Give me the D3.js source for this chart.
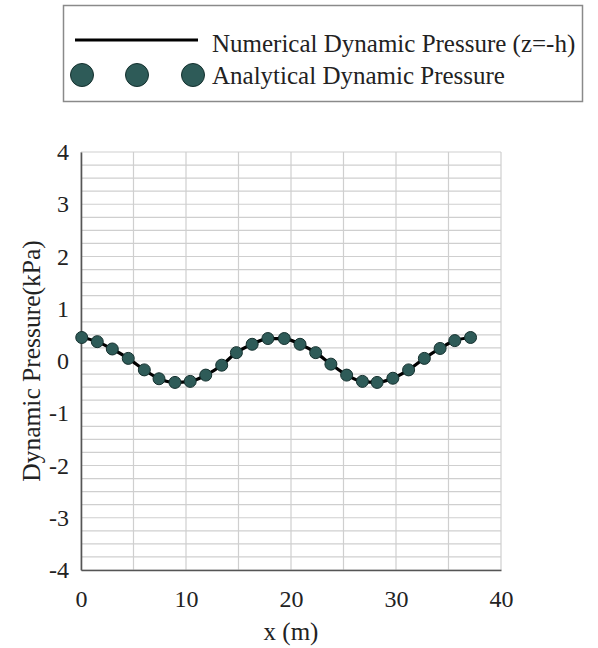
<!DOCTYPE html>
<html>
<head>
<meta charset="utf-8">
<script src="https://cdn.jsdelivr.net/npm/d3@7"></script>
<style>
  html, body { margin: 0; padding: 0; background: #fff; }
  svg { display: block; }
  text { font-family: "Liberation Serif", "Times New Roman", serif; fill: #222; }
</style>
</head>
<body>
<svg id="chart" width="598" height="648"></svg>
<script>
// Station positions along the channel (m)
const stations = [0.07, 1.55, 2.98, 4.5, 6.03, 7.43, 8.95, 10.4, 11.88, 13.4, 14.8, 16.3, 17.8,
                  19.36, 20.86, 22.35, 23.8, 25.3, 26.8, 28.2, 29.7, 31.2, 32.7, 34.2, 35.6, 37.1];
// Numerical dynamic pressure at the bed, z = -h (kPa)
const numericalPressure = [0.45, 0.37, 0.23, 0.05, -0.17, -0.34, -0.41, -0.39, -0.27, -0.08, 0.16, 0.32, 0.43,
                           0.43, 0.32, 0.16, -0.06, -0.27, -0.39, -0.41, -0.33, -0.17, 0.05, 0.24, 0.39, 0.45];
// Analytical dynamic pressure (kPa)
const analyticalPressure = [0.45, 0.37, 0.23, 0.05, -0.17, -0.34, -0.41, -0.39, -0.27, -0.08, 0.16, 0.32, 0.43,
                            0.43, 0.32, 0.16, -0.06, -0.27, -0.39, -0.41, -0.33, -0.17, 0.05, 0.24, 0.39, 0.45];
const xTicks = [0, 10, 20, 30, 40];
const yTicks = [4, 3, 2, 1, 0, -1, -2, -3, -4];
const xGrid = [0, 5, 10, 15, 20, 25, 30, 35, 40];
const yGrid = d3.range(-16, 17).map(k => k / 4);

const seriesNames = ["Numerical Dynamic Pressure (z=-h)", "Analytical Dynamic Pressure"];

const svg = d3.select("#chart");
const plot = { left: 81, right: 501, top: 152, bottom: 570 };

const x = d3.scaleLinear().domain([0, 40]).range([plot.left, plot.right]);
const y = d3.scaleLinear().domain([-4, 4]).range([plot.bottom, plot.top]);

const markerFill = "#2e5b58";
const markerStroke = "#14302e";

// Grid
const grid = svg.append("g");
grid.selectAll("line.h").data(yGrid).join("line")
  .attr("x1", plot.left).attr("x2", plot.right)
  .attr("y1", d => y(d)).attr("y2", d => y(d))
  .attr("stroke", "#cfcfcf").attr("stroke-width", 1.2);
grid.selectAll("line.v").data(xGrid).join("line")
  .attr("y1", plot.top).attr("y2", plot.bottom)
  .attr("x1", d => x(d)).attr("x2", d => x(d))
  .attr("stroke", "#cfcfcf").attr("stroke-width", 1.2);

// Axes
const xAxis = d3.axisBottom(x).tickValues(xTicks).tickSize(0).tickPadding(20).tickFormat(d3.format("d"));
const yAxis = d3.axisLeft(y).tickValues(yTicks).tickSize(0).tickPadding(12).tickFormat(d3.format("d"));

const gx = svg.append("g").attr("transform", `translate(0,${plot.bottom})`).call(xAxis);
const gy = svg.append("g").attr("transform", `translate(${plot.left},0)`).call(yAxis);
[gx, gy].forEach(g => {
  g.select(".domain").attr("stroke", "#555").attr("stroke-width", 1.6);
  g.selectAll("text").style("font-family", '"Liberation Serif", serif')
    .style("font-size", "24px").attr("fill", "#222");
});
gy.selectAll("text").text(d => d < 0 ? "-" + Math.abs(d) : d);

// Axis titles
svg.append("text").attr("x", x(20)).attr("y", 640)
  .attr("text-anchor", "middle").style("font-size", "25px").text("x (m)");
svg.append("text").attr("transform", `translate(31,${y(0)}) rotate(-90)`)
  .attr("text-anchor", "middle").attr("dominant-baseline", "central")
  .style("font-size", "25.5px").text("Dynamic Pressure(kPa)");

// Numerical line
const line = d3.line().x((d, i) => x(stations[i])).y(d => y(d)).curve(d3.curveMonotoneX);
svg.append("path").datum(numericalPressure)
  .attr("d", line).attr("fill", "none").attr("stroke", "#000").attr("stroke-width", 3.2);

// Analytical markers
svg.append("g").selectAll("circle").data(analyticalPressure).join("circle")
  .attr("cx", (d, i) => x(stations[i])).attr("cy", d => y(d)).attr("r", 6)
  .attr("fill", markerFill).attr("stroke", markerStroke).attr("stroke-width", 1);

// Legend
const legend = svg.append("g");
legend.append("rect").attr("x", 63.5).attr("y", 5.5).attr("width", 519).attr("height", 96)
  .attr("fill", "#fff").attr("stroke", "#8a8a8a").attr("stroke-width", 1.5);
legend.append("line").attr("x1", 75).attr("x2", 198).attr("y1", 40).attr("y2", 40)
  .attr("stroke", "#000").attr("stroke-width", 3.2);
legend.selectAll("circle").data([82, 137, 193]).join("circle")
  .attr("cx", d => d).attr("cy", 75).attr("r", 11.5)
  .attr("fill", markerFill).attr("stroke", markerStroke).attr("stroke-width", 1);
legend.selectAll("text").data(seriesNames).join("text")
  .attr("x", 212).attr("y", (d, i) => i === 0 ? 52 : 84)
  .style("font-size", "25px").text(d => d);
</script>
</body>
</html>
